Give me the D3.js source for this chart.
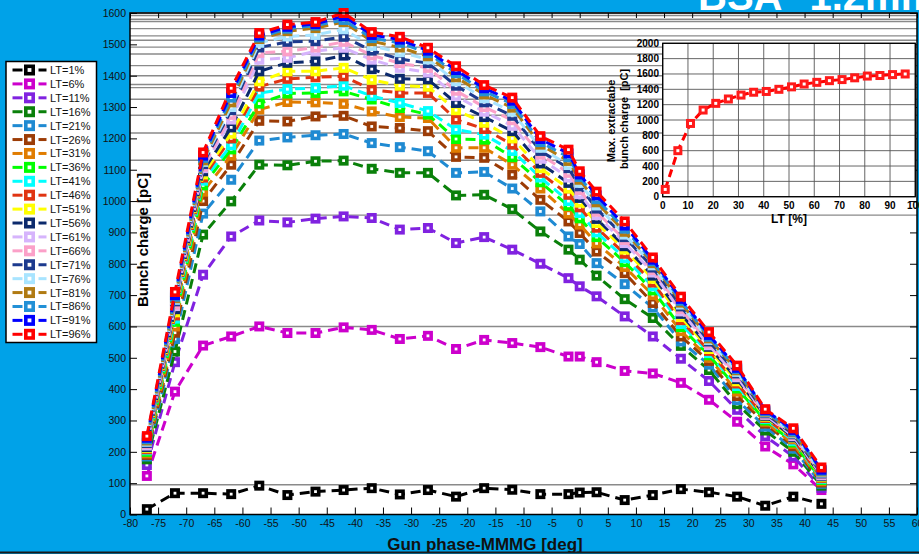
<!DOCTYPE html>
<html>
<head>
<meta charset="utf-8">
<script src="https://cdn.jsdelivr.net/npm/d3@7"></script>
<style>
  body { margin: 0; background: #00a2e8; }
  svg { display: block; font-family: "Liberation Sans", Arial, sans-serif; }
</style>
</head>
<body>
<div id="chart"></div>
<script>

// Gun phase positions of the scan (deg).
var phases = [-77, -72, -67, -62, -57, -52, -47, -42, -37, -32, -27, -22, -17, -12, -7, -2, 0, 3, 8, 13, 18, 23, 28, 33, 38, 43];

// Laser transmission levels (%) and their colours.
var ltLevels = [1, 6, 11, 16, 21, 26, 31, 36, 41, 46, 51, 56, 61, 66, 71, 76, 81, 86, 91, 96];
var ltColors = ["#000000", "#cc00cc", "#8022e0", "#0a800a", "#1f8ad2", "#9c3c06", "#e07c00", "#00ff00",
                "#00ffff", "#e03412", "#ffff00", "#0c2a6c", "#d6b4fc", "#fba0c8", "#1c3a8e", "#a8e4ff",
                "#b07a12", "#2290d6", "#0000ff", "#ff0000"];

// Bunch charge (pC) for every LT level, one value per phase.
var lt1  = [17, 68, 68, 65, 92, 62, 73, 78, 84, 64, 78, 57, 84, 79, 65, 65, 70, 71, 46, 62, 81, 71, 57, 28, 57, 34];
var lt6  = [123, 392, 539, 568, 600, 579, 579, 597, 589, 560, 570, 528, 557, 547, 534, 504, 504, 486, 458, 450, 420, 366, 296, 217, 160, 78];
var lt11 = [158, 486, 765, 887, 938, 932, 944, 951, 946, 909, 914, 866, 885, 845, 800, 754, 728, 696, 632, 568, 497, 426, 334, 250, 185, 85];
var lt16 = [176, 520, 893, 999, 1116, 1114, 1127, 1129, 1103, 1090, 1090, 1018, 1020, 974, 903, 845, 813, 762, 687, 627, 538, 461, 352, 268, 200, 92];
var lt21 = [185, 560, 960, 1068, 1193, 1203, 1210, 1214, 1185, 1172, 1159, 1090, 1093, 1040, 967, 887, 863, 802, 735, 660, 552, 478, 365, 280, 210, 98];
var lt26 = [190, 580, 1000, 1116, 1256, 1254, 1270, 1272, 1238, 1233, 1223, 1141, 1138, 1084, 1004, 935, 898, 839, 770, 675, 568, 490, 378, 290, 218, 102];
var lt31 = [195, 600, 1030, 1145, 1292, 1316, 1315, 1310, 1286, 1268, 1265, 1170, 1170, 1116, 1040, 960, 925, 865, 790, 700, 585, 500, 392, 296, 225, 106];
var lt36 = [200, 615, 1050, 1165, 1311, 1343, 1345, 1350, 1324, 1297, 1276, 1198, 1196, 1140, 1060, 985, 945, 885, 805, 715, 598, 508, 402, 300, 230, 110];
var lt41 = [205, 625, 1065, 1178, 1345, 1357, 1361, 1368, 1335, 1313, 1287, 1228, 1212, 1160, 1075, 1000, 962, 900, 818, 728, 608, 515, 410, 305, 235, 113];
var lt46 = [208, 635, 1075, 1200, 1365, 1390, 1395, 1398, 1355, 1345, 1345, 1260, 1230, 1180, 1090, 1020, 980, 915, 832, 740, 620, 522, 418, 308, 240, 116];
var lt51 = [212, 645, 1085, 1215, 1382, 1414, 1414, 1425, 1387, 1368, 1365, 1290, 1250, 1200, 1105, 1040, 995, 930, 845, 752, 630, 528, 425, 312, 243, 119];
var lt56 = [215, 655, 1095, 1235, 1414, 1441, 1446, 1464, 1421, 1390, 1388, 1313, 1268, 1223, 1120, 1058, 1010, 943, 856, 762, 640, 535, 432, 315, 246, 122];
var lt61 = [220, 665, 1105, 1260, 1451, 1457, 1478, 1489, 1451, 1425, 1410, 1335, 1285, 1240, 1135, 1075, 1022, 955, 866, 772, 648, 540, 438, 318, 250, 125];
var lt66 = [225, 670, 1110, 1275, 1473, 1478, 1490, 1508, 1465, 1440, 1425, 1352, 1300, 1258, 1148, 1090, 1035, 966, 876, 780, 656, 546, 444, 320, 253, 128];
var lt71 = [228, 680, 1118, 1290, 1490, 1508, 1510, 1524, 1480, 1453, 1440, 1368, 1315, 1272, 1160, 1105, 1047, 976, 885, 788, 664, 552, 450, 323, 256, 131];
var lt76 = [232, 685, 1125, 1300, 1505, 1525, 1530, 1548, 1495, 1475, 1452, 1382, 1328, 1285, 1170, 1115, 1058, 986, 893, 795, 670, 557, 455, 326, 259, 134];
var lt81 = [236, 690, 1130, 1315, 1517, 1542, 1552, 1571, 1510, 1490, 1462, 1395, 1340, 1298, 1180, 1128, 1068, 996, 902, 802, 676, 562, 460, 328, 262, 137];
var lt86 = [240, 695, 1138, 1330, 1522, 1550, 1560, 1578, 1520, 1505, 1472, 1408, 1350, 1310, 1188, 1140, 1077, 1006, 912, 808, 682, 567, 464, 330, 265, 140];
var lt91 = [245, 700, 1145, 1345, 1528, 1556, 1565, 1590, 1530, 1515, 1480, 1418, 1360, 1320, 1198, 1152, 1085, 1018, 922, 813, 688, 573, 468, 333, 270, 143];
var lt96 = [250, 710, 1155, 1360, 1536, 1563, 1571, 1600, 1539, 1524, 1489, 1430, 1370, 1330, 1207, 1164, 1095, 1030, 935, 820, 695, 582, 475, 336, 275, 150];

var charges = [lt1, lt6, lt11, lt16, lt21, lt26, lt31, lt36, lt41, lt46, lt51, lt56, lt61, lt66, lt71, lt76, lt81, lt86, lt91, lt96];

// Max. extractable charge per LT level (inset), also marked as grey lines in the main plot.
var maxCharge = [95, 600, 955, 1130, 1217, 1274, 1325, 1362, 1372, 1400, 1432, 1469, 1491, 1513, 1527, 1550, 1573, 1580, 1592, 1600];

var xTicks = d3.range(-80, 61, 5);
var yTicks = d3.range(0, 1601, 100);
var insetXTicks = d3.range(0, 101, 10);
var insetYTicks = d3.range(0, 2001, 200);


function drawChart() {

  var W = 919, H = 554;
  var svg = d3.select("#chart").append("svg")
    .attr("width", W)
    .attr("height", H);

  svg.append("rect").attr("width", W).attr("height", H).attr("fill", "#00a2e8");

  // Main plot scales.
  var pLeft = 130, pRight = 917, pTop = 13, pBottom = 514.5;
  var x = d3.scaleLinear().domain([-80, 60]).range([pLeft, pRight]);
  var y = d3.scaleLinear().domain([0, 1600]).range([pBottom, pTop]);
  var plain = function(d) { return String(d); }; // keep ASCII hyphen for negatives

  svg.append("rect")
    .attr("x", pLeft).attr("y", pTop)
    .attr("width", pRight - pLeft).attr("height", pBottom - pTop)
    .attr("fill", "#fff");

  // Grey lines at the max charge of each LT.
  svg.selectAll(".maxline")
    .data(maxCharge)
    .enter()
    .append("line")
    .attr("x1", pLeft).attr("x2", pRight)
    .attr("y1", function(d) { return y(d); })
    .attr("y2", function(d) { return y(d); })
    .attr("stroke", "#8a8a8a")
    .attr("stroke-width", 1.4);

  // Axes, ticks inward on all four sides.
  var xAxis = svg.append("g")
    .attr("transform", "translate(0," + pBottom + ")")
    .call(d3.axisBottom(x).tickValues(xTicks).tickSizeInner(-7).tickSizeOuter(0).tickPadding(5).tickFormat(plain));
  svg.append("g")
    .attr("transform", "translate(0," + pTop + ")")
    .call(d3.axisTop(x).tickValues(xTicks).tickSizeInner(-5).tickSizeOuter(0).tickFormat(""));
  var yAxis = svg.append("g")
    .attr("transform", "translate(" + pLeft + ",0)")
    .call(d3.axisLeft(y).tickValues(yTicks).tickSizeInner(-7).tickSizeOuter(0).tickPadding(4).tickFormat(plain));
  svg.append("g")
    .attr("transform", "translate(" + pRight + ",0)")
    .call(d3.axisRight(y).tickValues(yTicks).tickSizeInner(-7).tickSizeOuter(0).tickFormat(""));

  svg.selectAll(".domain").remove();
  svg.selectAll(".tick line").attr("stroke", "#000").attr("stroke-width", 1);
  xAxis.selectAll("text").attr("font-size", "10.5px").attr("fill", "#111");
  yAxis.selectAll("text").attr("font-size", "10.5px").attr("fill", "#111");

  // Series: dashed line with square markers.
  var line = d3.line()
    .x(function(d, i) { return x(phases[i]); })
    .y(function(d) { return y(d); });

  charges.forEach(function(values, k) {
    var g = svg.append("g");
    g.append("path")
      .datum(values)
      .attr("d", line)
      .attr("fill", "none")
      .attr("stroke", ltColors[k])
      .attr("stroke-width", 3)
      .attr("stroke-dasharray", "10,6");
    g.selectAll("rect")
      .data(values)
      .enter()
      .append("rect")
      .attr("x", function(d, i) { return x(phases[i]) - 3.2; })
      .attr("y", function(d) { return y(d) - 3.2; })
      .attr("width", 6.4).attr("height", 6.4)
      .attr("fill", "#fff")
      .attr("stroke", ltColors[k])
      .attr("stroke-width", 3.6);
  });

  // Frame.
  svg.append("rect")
    .attr("x", pLeft).attr("y", pTop)
    .attr("width", pRight - pLeft).attr("height", pBottom - pTop)
    .attr("fill", "none").attr("stroke", "#000").attr("stroke-width", 1.5);

  // Axis labels.
  svg.append("text")
    .attr("transform", "translate(148,240) rotate(-90)")
    .style("text-anchor", "middle")
    .attr("font-size", "15px").attr("font-weight", "bold")
    .text("Bunch charge [pC]");

  svg.append("text")
    .attr("x", 485).attr("y", 550)
    .style("text-anchor", "middle")
    .attr("font-size", "17px").attr("font-weight", "bold")
    .attr("fill", "#111")
    .text("Gun phase-MMMG [deg]");

  svg.append("line")
    .attr("x1", 0).attr("x2", W).attr("y1", 552.5).attr("y2", 552.5)
    .attr("stroke", "#1a1a1a").attr("stroke-width", 2);

  // Title, cut by the top edge.
  var title = svg.append("text")
    .attr("x", 698).attr("y", 10)
    .attr("font-size", "40px").attr("font-weight", "bold")
    .attr("fill", "#fff");
  title.append("tspan").text("BSA");
  title.append("tspan").attr("dx", 27).text("1.2mm");

  // Inset: max. extractable charge vs LT.
  var ix = d3.scaleLinear().domain([0, 100]).range([662.7, 915.3]);
  var iy = d3.scaleLinear().domain([0, 2000]).range([196.7, 43.3]);
  var inset = svg.append("g");

  inset.append("rect")
    .attr("x", ix(0)).attr("y", iy(2000))
    .attr("width", ix(100) - ix(0)).attr("height", iy(0) - iy(2000))
    .attr("fill", "#fff");

  inset.selectAll(".vgrid")
    .data(insetXTicks)
    .enter()
    .append("line")
    .attr("x1", function(d) { return ix(d); }).attr("x2", function(d) { return ix(d); })
    .attr("y1", iy(0)).attr("y2", iy(2000))
    .attr("stroke", "#555").attr("stroke-width", 0.9);
  inset.selectAll(".hgrid")
    .data(insetYTicks)
    .enter()
    .append("line")
    .attr("x1", ix(0)).attr("x2", ix(100))
    .attr("y1", function(d) { return iy(d); }).attr("y2", function(d) { return iy(d); })
    .attr("stroke", "#555").attr("stroke-width", 0.9);

  inset.selectAll(".xlab")
    .data(insetXTicks)
    .enter()
    .append("text")
    .attr("x", function(d) { return ix(d); })
    .attr("y", 208.5)
    .style("text-anchor", "middle")
    .attr("font-size", "10px").attr("font-weight", "bold")
    .text(function(d) { return d; });
  inset.selectAll(".ylab")
    .data(insetYTicks)
    .enter()
    .append("text")
    .attr("x", 659)
    .attr("y", function(d) { return iy(d); })
    .attr("dy", "0.35em")
    .style("text-anchor", "end")
    .attr("font-size", "10px").attr("font-weight", "bold")
    .text(function(d) { return d; });

  inset.append("rect")
    .attr("x", ix(0)).attr("y", iy(2000))
    .attr("width", ix(100) - ix(0)).attr("height", iy(0) - iy(2000))
    .attr("fill", "none").attr("stroke", "#000").attr("stroke-width", 1.3);

  var insetLine = d3.line()
    .x(function(d, i) { return ix(ltLevels[i]); })
    .y(function(d) { return iy(d); });

  inset.append("path")
    .datum(maxCharge)
    .attr("d", insetLine)
    .attr("fill", "none")
    .attr("stroke", "#ff0000")
    .attr("stroke-width", 3)
    .attr("stroke-dasharray", "8,5");
  inset.selectAll(".pt")
    .data(maxCharge)
    .enter()
    .append("rect")
    .attr("x", function(d, i) { return ix(ltLevels[i]) - 3; })
    .attr("y", function(d) { return iy(d) - 3; })
    .attr("width", 6).attr("height", 6)
    .attr("fill", "#fff")
    .attr("stroke", "#ff1a1a")
    .attr("stroke-width", 3);

  inset.append("text")
    .attr("x", 789).attr("y", 223)
    .style("text-anchor", "middle")
    .attr("font-size", "12px").attr("font-weight", "bold")
    .text("LT [%]");
  inset.append("text")
    .attr("transform", "translate(615,121) rotate(-90)")
    .style("text-anchor", "middle")
    .attr("font-size", "11px").attr("font-weight", "bold")
    .text("Max. extractabe");
  inset.append("text")
    .attr("transform", "translate(627.5,119) rotate(-90)")
    .style("text-anchor", "middle")
    .attr("font-size", "11px").attr("font-weight", "bold")
    .attr("xml:space", "preserve")
    .text("bunch charge  [pC]");

  // Legend.
  var legRow = d3.scaleLinear().domain([0, ltLevels.length - 1]).range([70, 334.3]);
  var legend = svg.append("g");
  legend.append("rect")
    .attr("x", 6).attr("y", 61.5)
    .attr("width", 90.5).attr("height", 281)
    .attr("fill", "#fff").attr("stroke", "#000").attr("stroke-width", 1.5);

  ltLevels.forEach(function(lt, k) {
    var yy = legRow(k);
    legend.append("line")
      .attr("x1", 12.5).attr("x2", 22.5).attr("y1", yy).attr("y2", yy)
      .attr("stroke", ltColors[k]).attr("stroke-width", 3);
    legend.append("line")
      .attr("x1", 38.5).attr("x2", 46.5).attr("y1", yy).attr("y2", yy)
      .attr("stroke", ltColors[k]).attr("stroke-width", 3);
    legend.append("rect")
      .attr("x", 25.8).attr("y", yy - 3.7)
      .attr("width", 7.4).attr("height", 7.4)
      .attr("fill", "#fff")
      .attr("stroke", ltColors[k]).attr("stroke-width", 3.6);
    legend.append("text")
      .attr("x", 50).attr("y", yy).attr("dy", "0.36em")
      .attr("font-size", "11px")
      .attr("fill", "#111")
      .text("LT=" + lt + "%");
  });
}

drawChart();

</script>
</body>
</html>
